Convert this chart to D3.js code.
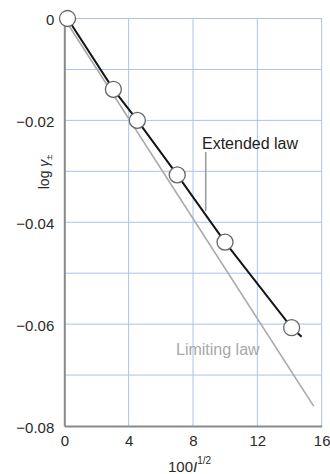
<!DOCTYPE html>
<html>
<head>
<meta charset="utf-8">
<script src="https://cdn.jsdelivr.net/npm/d3@7/dist/d3.min.js"></script>
<style>
  html, body { margin: 0; padding: 0; background: #fff; }
  svg { display: block; font-family: "Liberation Sans", Arial, sans-serif; }
</style>
</head>
<body>
<svg id="chart" width="330" height="474"></svg>
<script>
// Measured mean activity coefficients
const measuredX = [0.2, 3.05, 4.54, 7.02, 9.99, 14.13];
const measuredY = [0, -0.0139, -0.0200, -0.0307, -0.0439, -0.0607];

// Extended Debye–Hückel law curve
const extendedX = [0.2, 3.05, 4.54, 7.02, 9.99, 14.13, 14.75];
const extendedY = [0, -0.0139, -0.0200, -0.0307, -0.0439, -0.0607, -0.0625];

// Limiting law (straight line)
const limitingX = [0, 15.5];
const limitingY = [0, -0.0761];

// Axis ticks and grid
const xTicks = [0, 4, 8, 12, 16];
const yTicks = [0, -0.02, -0.04, -0.06, -0.08];
const yGrid = [0, -0.01, -0.02, -0.03, -0.04, -0.05, -0.06, -0.07];
const xGrid = [4, 8, 12, 16];

const plotLeft = 64.3, plotRight = 321.7, plotTop = 18.5, plotBottom = 426;

const svg = d3.select("#chart");
const x = d3.scaleLinear().domain([0, 16]).range([plotLeft, plotRight]);
const y = d3.scaleLinear().domain([-0.08, 0]).range([plotBottom, plotTop]);

// grid
const grid = svg.append("g").attr("stroke", "#adc2e8").attr("stroke-width", 1);
grid.selectAll("line.h").data(yGrid).join("line")
  .attr("x1", plotLeft).attr("x2", plotRight)
  .attr("y1", d => y(d)).attr("y2", d => y(d));
grid.selectAll("line.v").data(xGrid).join("line")
  .attr("x1", d => x(d)).attr("x2", d => x(d))
  .attr("y1", plotTop).attr("y2", plotBottom);

// axes
const fmtY = d => d === 0 ? "0" : d3.format(".2f")(d);
const yAxis = svg.append("g").attr("transform", `translate(${plotLeft},0)`)
  .call(d3.axisLeft(y).tickValues(yTicks).tickFormat(fmtY).tickSize(0).tickPadding(10));
const xAxis = svg.append("g").attr("transform", `translate(0,${plotBottom})`)
  .call(d3.axisBottom(x).tickValues(xTicks).tickFormat(d3.format("d")).tickSize(0).tickPadding(9));
[yAxis, xAxis].forEach(a => {
  a.select(".domain").attr("stroke", "#8a8a8a").attr("stroke-width", 2);
  a.selectAll("text").attr("font-size", 15).attr("fill", "#2a2a2a")
    .attr("font-family", "Liberation Sans, Arial, sans-serif");
});
yAxis.selectAll("text").attr("dy", "0.4em");

// limiting law
const line = d3.line().x(d => x(d[0])).y(d => y(d[1]));
svg.append("path")
  .datum(d3.zip(limitingX, limitingY))
  .attr("d", line).attr("fill", "none")
  .attr("stroke", "#a9a9a9").attr("stroke-width", 1.6);

// leader for extended law label
svg.append("line")
  .attr("x1", 205.7).attr("x2", 205.7).attr("y1", 152).attr("y2", 211)
  .attr("stroke", "#999").attr("stroke-width", 1.5);

// extended law
svg.append("path")
  .datum(d3.zip(extendedX, extendedY))
  .attr("d", line).attr("fill", "none")
  .attr("stroke", "#151515").attr("stroke-width", 2);

// measured points
svg.selectAll("circle.pt").data(d3.zip(measuredX, measuredY)).join("circle")
  .attr("cx", d => x(d[0])).attr("cy", d => y(d[1])).attr("r", 8)
  .attr("fill", "#fff").attr("stroke", "#666").attr("stroke-width", 1.3);

// labels
svg.append("text").attr("x", 202).attr("y", 148.5)
  .attr("font-size", 16).attr("fill", "#222").text("Extended law");
svg.append("text").attr("x", 176).attr("y", 355)
  .attr("font-size", 16).attr("fill", "#a8a8a8").text("Limiting law");

// axis titles
const xt = svg.append("text").attr("x", 168).attr("y", 471.5)
  .attr("font-size", 15).attr("fill", "#2a2a2a");
xt.append("tspan").text("100");
xt.append("tspan").attr("font-style", "italic").text("I");
xt.append("tspan").attr("font-size", 10).attr("dy", -8).text("1/2");

const yt = svg.append("text")
  .attr("transform", "translate(49,172) rotate(-90)")
  .attr("text-anchor", "middle").attr("font-size", 14).attr("fill", "#2a2a2a");
yt.append("tspan").text("log ");
yt.append("tspan").attr("font-style", "italic").text("γ");
yt.append("tspan").attr("font-size", 9).attr("dy", 3).text("±");
</script>
</body>
</html>
